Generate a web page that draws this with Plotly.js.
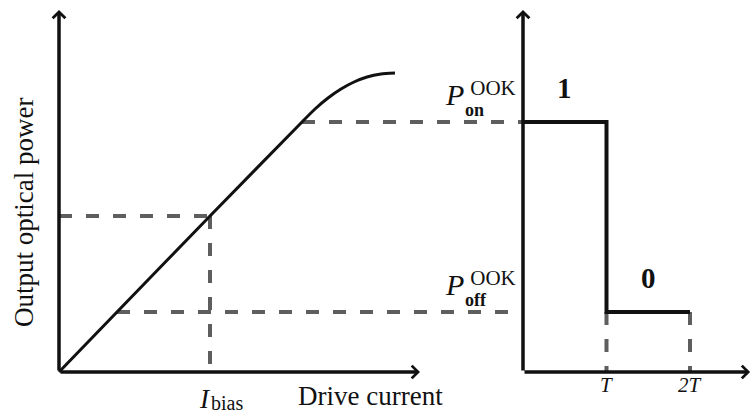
<!DOCTYPE html>
<html>
<head>
<meta charset="utf-8">
<script src="https://cdn.plot.ly/plotly-3.0.1.min.js"></script>
<style>
  html, body { margin: 0; padding: 0; background: #ffffff; }
  #chart { width: 751px; height: 417px; }
</style>
</head>
<body>
<div id="chart"></div>
<script>
// Laser P-I characteristic (drive current vs. output optical power)
const driveCurrent = [0, 5.8, 15.1, 24.3, 25.6, 26.9, 28.2, 29.5, 30.8, 32.2, 33.6];
const opticalPower = [0, 6.0, 15.6, 25.0, 26.3, 27.4, 28.3, 29.0, 29.5, 29.8, 29.9];

// Operating points on the P-I curve
const biasCurrent = 15.1;
const biasPower = 15.6;
const onCurrent = 24.3;
const onPower = 25.0;
const offCurrent = 5.8;
const offPower = 6.0;

// OOK symbols over two bit slots
const bitLabels = ['1', '0'];
const bitPower = [onPower, offPower];
const slotEdges = [0, 1, 2];
const timeTickValues = [1, 2];
const timeTickLabels = ['T', '2T'];

// Axis extents
const currentAxisMax = 36.1;
const powerAxisMax = 36.2;
const timeAxisMax = 2.72;

// Placement of the time panel along the shared horizontal scale
const pulseOrigin = 46.4;
const pulseScale = 8.35;
const toPulseX = t => pulseOrigin + t * pulseScale;

const serif = '"Liberation Serif", "Times New Roman", serif';
const ink = '#111111';
const dashGrey = '#5e5e5e';
const dashStyle = '13px,14px';

function dashed(xs, ys) {
  return {
    x: xs, y: ys, type: 'scatter', mode: 'lines', hoverinfo: 'skip',
    line: { color: dashGrey, width: 4, dash: dashStyle }
  };
}

const traces = [
  // guide lines
  dashed([0, biasCurrent], [biasPower, biasPower]),
  dashed([biasCurrent, biasCurrent], [biasPower, 0]),
  dashed([onCurrent, pulseOrigin], [onPower, onPower]),
  dashed([offCurrent, pulseOrigin], [offPower, offPower]),
  ...timeTickValues.map(t => dashed([toPulseX(t), toPulseX(t)], [offPower, 0])),
  // P-I curve
  {
    x: driveCurrent, y: opticalPower, type: 'scatter', mode: 'lines', hoverinfo: 'skip',
    line: { color: ink, width: 3, shape: 'spline', smoothing: 0.6 }
  },
  // OOK waveform
  {
    x: slotEdges.map(toPulseX),
    y: [bitPower[0], bitPower[1], bitPower[1]],
    type: 'scatter', mode: 'lines', hoverinfo: 'skip',
    line: { color: ink, width: 4, shape: 'hv' }
  }
];

function axisArrow(x0, y0, x1, y1) {
  return {
    x: x1, y: y1, ax: x0, ay: y0, xref: 'x', yref: 'y', axref: 'x', ayref: 'y',
    text: '', showarrow: true, arrowhead: 4, arrowsize: 0.7, arrowwidth: 3.5,
    arrowcolor: ink, standoff: 0, startstandoff: 0
  };
}

function label(text, x, y, opts) {
  return Object.assign({
    text: text, x: x, y: y, xref: 'x', yref: 'y', showarrow: false,
    xanchor: 'center', yanchor: 'middle',
    font: { family: serif, size: 27, color: ink }
  }, opts || {});
}

const annotations = [
  axisArrow(0, 0, 0, powerAxisMax),
  axisArrow(0, 0, currentAxisMax, 0),
  axisArrow(pulseOrigin, 0, pulseOrigin, powerAxisMax),
  axisArrow(pulseOrigin, 0, toPulseX(timeAxisMax), 0),

  label('Output optical power', 0, 15.9, { textangle: -90, xshift: -35 }),
  label('Drive current', 31.1, 0, { yshift: -24 }),
  label('<i>I</i>', biasCurrent, 0, { xanchor: 'left', xshift: -13, yshift: -27 }),
  label('bias', biasCurrent, 0, { xanchor: 'left', xshift: -1, yshift: -31, font: { family: serif, size: 20, color: ink } }),

  ...timeTickValues.map((t, i) => label('<i>' + timeTickLabels[i] + '</i>', toPulseX(t), 0,
    { yshift: -13, font: { family: serif, size: 21, color: ink } })),

  ...bitLabels.map((b, i) => label('<b>' + b + '</b>', toPulseX(i + 0.5), bitPower[i],
    { yshift: 34, font: { family: serif, size: 29, color: ink } })),

  // P with stacked superscript OOK and subscript on/off
  ...[['on', onPower], ['off', offPower]].flatMap(([sub, level]) => [
    label('<i>P</i>', pulseOrigin, level, { xanchor: 'left', xshift: -80, yshift: 28, font: { family: serif, size: 30, color: ink } }),
    label('<span style="font-size:21px">&nbsp;OOK</span><br><span style="font-size:18px"><b>' + sub + '</b></span>',
      pulseOrigin, level,
      { xanchor: 'left', align: 'left', xshift: -60, yshift: 24, font: { family: serif, size: 16.5, color: ink } })
  ])
];

const layout = {
  width: 751, height: 417,
  margin: { l: 0, r: 0, t: 0, b: 0 },
  paper_bgcolor: '#ffffff', plot_bgcolor: '#ffffff',
  showlegend: false,
  xaxis: { range: [-5.9, 69.2], visible: false, fixedrange: true },
  yaxis: { range: [-4.5, 37.2], visible: false, fixedrange: true },
  annotations: annotations
};

Plotly.newPlot('chart', traces, layout, { staticPlot: true, displayModeBar: false });
</script>
</body>
</html>
